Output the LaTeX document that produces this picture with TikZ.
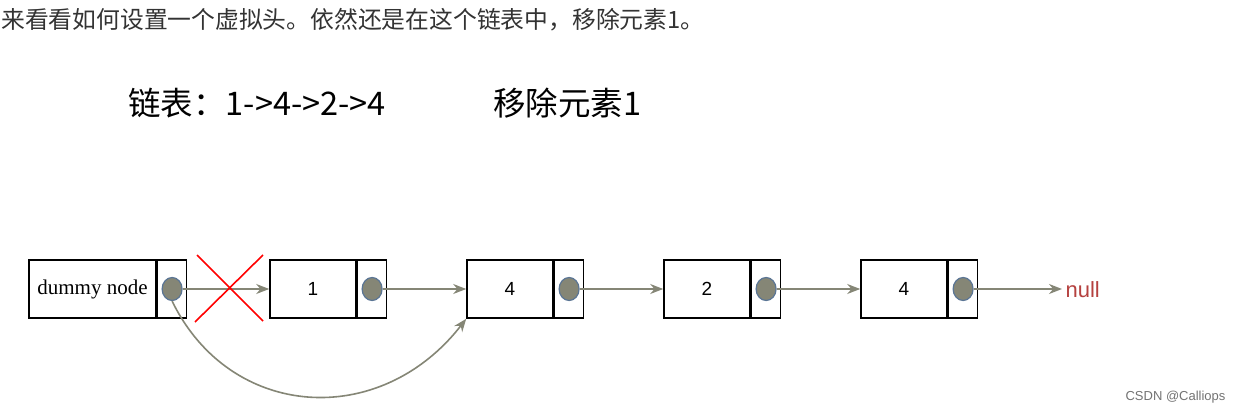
\documentclass[tikz,border=0pt]{standalone}
\usepackage{fontspec}
\setmainfont{Liberation Serif}
\newfontfamily\cjk{Noto Sans CJK SC}
\newfontfamily\arial{Liberation Sans}
\usetikzlibrary{arrows.meta,positioning,shapes.geometric}
\definecolor{ptrgray}{HTML}{858676}
\definecolor{dotblue}{HTML}{5A7595}
\definecolor{nullred}{HTML}{B5413F}
\tikzset{
  datacell/.style={draw, line width=1.6pt, minimum height=58pt, inner sep=0pt, font=\arial\fontsize{19}{19}\selectfont},
  ptrcell/.style={draw, line width=1.6pt, minimum height=58pt, minimum width=29pt, inner sep=0pt},
  ptrdot/.style={ellipse, fill=ptrgray, draw=dotblue, line width=1.2pt, minimum width=20pt, minimum height=23pt, inner sep=0pt},
  link/.style={draw=ptrgray, line width=1.6pt, -{Stealth[length=13pt,width=10pt]}}
}
\begin{document}
\begin{tikzpicture}[x=1pt,y=-1pt]
  \useasboundingbox[fill=white] (0,0) rectangle (1243,414);
  % captions
  \node[anchor=west, text=black!80, font=\cjk\fontsize{23.8}{23.8}\selectfont, inner sep=0pt] (intro) at (1,20) {来看看如何设置一个虚拟头。依然还是在这个链表中，移除元素1。};
  \node[anchor=west, font=\cjk\fontsize{32.5}{32.5}\selectfont, inner sep=0pt] (list) at (128,103) {链表：1->4->2->4};
  \node[anchor=west, font=\cjk\fontsize{32.5}{32.5}\selectfont, inner sep=0pt] (task) at (493,103) {移除元素1};
  % dummy head
  \node[datacell, minimum width=127pt, font=\fontsize{21}{21}\selectfont] (dummy) at (92.5,289) {dummy node};
  \node[ptrcell, right=0pt of dummy] (dummyp) {};
  \node[ptrdot] (dummyd) at (dummyp) {};
  % list nodes
  \foreach \name/\x/\val in {a/313/1, b/510/4, c/707/2, d/904/4}{
    \node[datacell, minimum width=86pt] (\name) at (\x,289) {\val};
    \node[ptrcell, right=0pt of \name] (\name p) {};
    \node[ptrdot] (\name d) at (\name p) {};
  }
  \node[anchor=west, text=nullred, font=\arial\fontsize{22}{22}\selectfont] (null) at (1062,290) {null};
  % links
  \draw[link] (dummyd.east) -- (a.west);
  \draw[link] (ad.east) -- (b.west);
  \draw[link] (bd.east) -- (c.west);
  \draw[link] (cd.east) -- (d.west);
  \draw[link] (dd.east) -- (null.west |- dd.east);
  \draw[link] (dummyd.south) .. controls (230,420) and (380,430) .. (b.south west);
  % cut link
  \draw[red, line width=1.6pt] (197,255) -- (263,321) (263,255) -- (195,322);
  \node[anchor=east, text=black!55, font=\arial\fontsize{13}{13}\selectfont] (mark) at (1229,397) {CSDN @Calliops};
\end{tikzpicture}
\end{document}
